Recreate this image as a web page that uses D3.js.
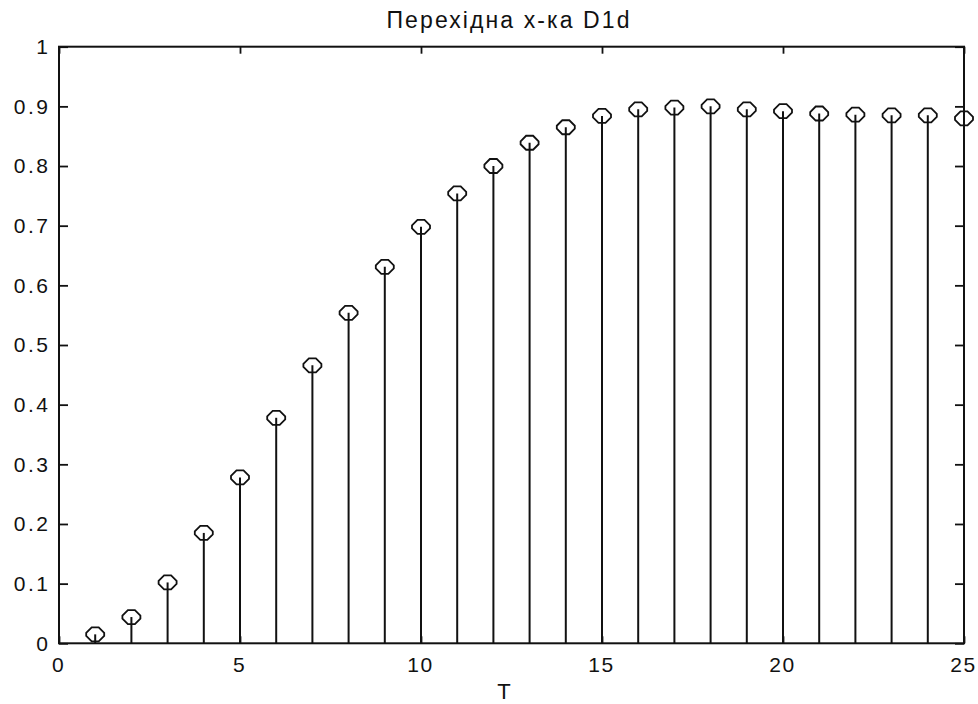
<!DOCTYPE html>
<html>
<head>
<meta charset="utf-8">
<script src="https://cdn.jsdelivr.net/npm/d3@7"></script>
<style>
  html, body { margin: 0; padding: 0; background: #fff; }
  svg { display: block; }
  text { font-family: "Liberation Sans", Arial, sans-serif; fill: #111; }
</style>
</head>
<body>
<svg id="chart" width="978" height="704"></svg>
<script>
// Step response samples, T = 1..25
const steps = [1, 2, 3, 4, 5, 6, 7, 8, 9, 10, 11, 12, 13, 14, 15, 16, 17, 18, 19, 20, 21, 22, 23, 24, 25];
const response = [0.015, 0.044, 0.102, 0.185, 0.278, 0.378, 0.466, 0.554, 0.631, 0.698,
                  0.754, 0.800, 0.839, 0.865, 0.884, 0.895, 0.898, 0.900, 0.895, 0.892,
                  0.888, 0.886, 0.885, 0.885, 0.880];
const xTicks = [0, 5, 10, 15, 20, 25];
const yTicks = [0, 0.1, 0.2, 0.3, 0.4, 0.5, 0.6, 0.7, 0.8, 0.9, 1];
const yTickLabels = ["0", "0.1", "0.2", "0.3", "0.4", "0.5", "0.6", "0.7", "0.8", "0.9", "1"];
const titleText = "Перехідна х-ка D1d";
const xLabel = "T";

const svg = d3.select("#chart");
const plotLeft = 59, plotRight = 964, plotTop = 46.7, plotBottom = 643.3;

const x = d3.scaleLinear().domain([0, 25]).range([plotLeft, plotRight]);
const y = d3.scaleLinear().domain([0, 1]).range([plotBottom, plotTop]);

svg.append("rect").attr("width", 978).attr("height", 704).attr("fill", "#fff");

const tickStyle = (spacing) => g => {
  g.select(".domain").remove();
  g.selectAll(".tick line").attr("stroke", "#111").attr("stroke-width", 1.8);
  g.selectAll("text").style("font-size", "21px").style("letter-spacing", spacing).attr("fill", "#111");
};

// bottom axis (ticks point inward)
svg.append("g")
  .attr("transform", `translate(0,${plotBottom})`)
  .call(d3.axisBottom(x).tickValues(xTicks).tickSizeInner(-7).tickSizeOuter(0).tickFormat(d3.format("d")))
  .call(tickStyle("1.5px"))
  .call(g => g.selectAll("text").attr("y", 28.5).attr("dy", 0).attr("dx", -1));

// top axis, ticks only
svg.append("g")
  .attr("transform", `translate(0,${plotTop})`)
  .call(d3.axisTop(x).tickValues(xTicks).tickSizeInner(-7).tickSizeOuter(0).tickFormat(""))
  .call(tickStyle("0px"));

// left axis
svg.append("g")
  .attr("transform", `translate(${plotLeft},0)`)
  .call(d3.axisLeft(y).tickValues(yTicks).tickSizeInner(-9).tickSizeOuter(0).tickPadding(8.5)
    .tickFormat((d, i) => yTickLabels[i]))
  .call(tickStyle("2.5px"));

// right axis, ticks only
svg.append("g")
  .attr("transform", `translate(${plotRight},0)`)
  .call(d3.axisRight(y).tickValues(yTicks).tickSizeInner(-9).tickSizeOuter(0).tickFormat(""))
  .call(tickStyle("0px"));

// plot box
svg.append("rect")
  .attr("x", plotLeft).attr("y", plotTop)
  .attr("width", plotRight - plotLeft).attr("height", plotBottom - plotTop)
  .attr("fill", "none").attr("stroke", "#111").attr("stroke-width", 2);

// stems
svg.append("g").selectAll("line")
  .data(steps)
  .join("line")
  .attr("x1", d => x(d)).attr("x2", d => x(d))
  .attr("y1", y(0)).attr("y2", (d, i) => y(response[i]))
  .attr("stroke", "#111").attr("stroke-width", 2);

// low-resolution circle marker (flattened octagon)
const octo = {
  draw(ctx) {
    const pts = [[-3.5, -7], [3.5, -7], [9, -1.5], [9, 1.5], [3.5, 7], [-3.5, 7], [-9, 1.5], [-9, -1.5]];
    ctx.moveTo(pts[0][0], pts[0][1]);
    for (let k = 1; k < pts.length; k++) ctx.lineTo(pts[k][0], pts[k][1]);
    ctx.closePath();
  }
};

svg.append("g").selectAll("path")
  .data(steps)
  .join("path")
  .attr("d", d3.symbol().type(octo)())
  .attr("transform", (d, i) => `translate(${x(d)},${y(response[i])})`)
  .attr("fill", "none").attr("stroke", "#111").attr("stroke-width", 1.8);

// title
svg.append("text")
  .attr("x", 508).attr("y", 28)
  .attr("text-anchor", "middle")
  .attr("textLength", 243).attr("lengthAdjust", "spacing")
  .style("font-size", "23px")
  .text(titleText);

// x label
svg.append("text")
  .attr("x", 504).attr("y", 699)
  .attr("text-anchor", "middle")
  .style("font-size", "22px")
  .text(xLabel);
</script>
</body>
</html>
